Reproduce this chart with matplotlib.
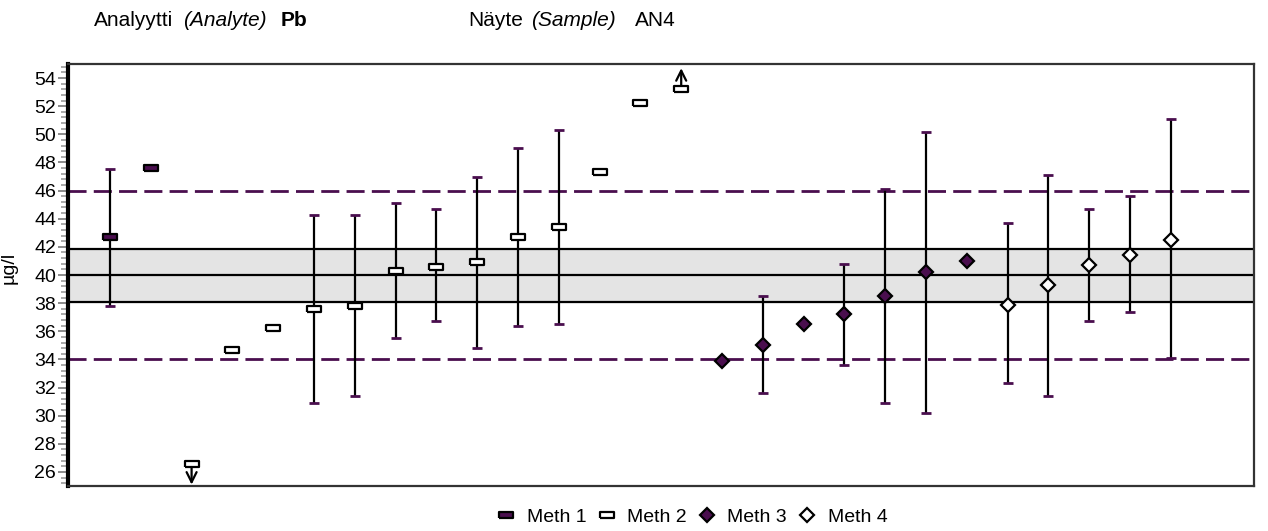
import matplotlib
matplotlib.use("Agg")
import matplotlib.pyplot as plt
from matplotlib.lines import Line2D
from matplotlib.ticker import MultipleLocator
import numpy as np

plt.rcParams["font.family"] = ["Liberation Sans", "DejaVu Sans"]

# results per laboratory, in plotting order
methods = [1, 1,
           2, 2, 2, 2, 2, 2, 2, 2, 2, 2, 2, 2, 2,
           3, 3, 3, 3, 3, 3, 3,
           4, 4, 4, 4, 4]
values = [42.7, 47.6,
          26.6, 34.7, 36.2, 37.6, 37.8, 40.3, 40.6, 40.9, 42.7, 43.4, 47.3, 52.2, 53.2,
          33.9, 35.0, 36.5, 37.2, 38.5, 40.2, 41.0,
          37.9, 39.3, 40.7, 41.4, 42.5]
lower = [37.8, np.nan,
         np.nan, np.nan, np.nan, 30.9, 31.4, 35.5, 36.7, 34.8, 36.4, 36.5, np.nan, np.nan, np.nan,
         np.nan, 31.6, np.nan, 33.6, 30.9, 30.2, np.nan,
         32.3, 31.4, 36.7, 37.4, 34.1]
upper = [47.5, np.nan,
         np.nan, np.nan, np.nan, 44.3, 44.3, 45.1, 44.7, 47.0, 49.0, 50.3, np.nan, np.nan, np.nan,
         np.nan, 38.5, np.nan, 40.8, 46.1, 50.2, np.nan,
         43.7, 47.1, 44.7, 45.6, 51.1]
# off-scale results: -1 below the axis, +1 above
offscale = [0, 0,
            -1, 0, 0, 0, 0, 0, 0, 0, 0, 0, 0, 0, 1,
            0, 0, 0, 0, 0, 0, 0,
            0, 0, 0, 0, 0]

assigned = 40.0
band = (38.05, 41.83)
limits = (34.0, 46.0)

purple = "#4a0e4e"
rect = [(-1, -0.38), (1, -0.38), (1, 0.38), (-1, 0.38), (-1, -0.38)]
styles = {
    1: dict(marker=rect, markersize=10, markerfacecolor=purple, label="Meth 1"),
    2: dict(marker=rect, markersize=10, markerfacecolor="white", label="Meth 2"),
    3: dict(marker="D", markersize=7.4, markerfacecolor=purple, label="Meth 3"),
    4: dict(marker="D", markersize=7.4, markerfacecolor="white", label="Meth 4"),
}

fig = plt.figure(figsize=(12.68, 5.31), dpi=100)
ax = fig.add_axes([0.0536, 0.0847, 0.9354, 0.7948])

x = np.arange(len(values))
vals = np.array(values)
lo = np.array(lower)
hi = np.array(upper)

ax.axhspan(band[0], band[1], color="#e4e4e4", zorder=0)
for yv in (band[0], assigned, band[1]):
    ax.axhline(yv, color="black", lw=1.6, zorder=1)
for yv in limits:
    ax.axhline(yv, color=purple, lw=2, dashes=(6.5, 2.6), zorder=1)

has_err = ~np.isnan(lo)
ax.vlines(x[has_err], lo[has_err], hi[has_err], color="black", lw=1.6, zorder=2)
ax.plot(x[has_err], lo[has_err], ls="none", marker="_", ms=7.5, mew=2, color=purple, zorder=2)
ax.plot(x[has_err], hi[has_err], ls="none", marker="_", ms=7.5, mew=2, color=purple, zorder=2)

for i, v in enumerate(vals):
    st = dict(styles[methods[i]])
    st.pop("label")
    ax.plot(x[i], v, ls="none", markeredgecolor="black", markeredgewidth=1.6, zorder=4, **st)
    if offscale[i]:
        d = offscale[i]
        ax.annotate("", xy=(x[i], v + d * 1.5), xytext=(x[i], v + d * 0.25),
                    arrowprops=dict(arrowstyle="->", color="black", lw=1.6,
                                    mutation_scale=18, shrinkA=0, shrinkB=0),
                    zorder=4)

ax.set_xlim(-1.03, 28.04)
ax.set_ylim(25, 55)
ax.set_xticks([])
ax.yaxis.set_minor_locator(MultipleLocator(0.4))
ax.set_yticks(np.arange(26, 55, 2))
ax.tick_params(axis="y", which="major", length=7, width=1.2, color="#777777",
               labelsize=14, pad=1.5)
ax.tick_params(axis="y", which="minor", length=5, width=1.2, color="#999999")
ax.set_ylabel("µg/l", fontsize=14)
ax.yaxis.set_label_coords(-0.0422, 0.517)

for side in ("top", "right", "bottom"):
    ax.spines[side].set_color("#333333")
    ax.spines[side].set_linewidth(1.6)
ax.spines["left"].set_linewidth(3)

# header
fs = 15
y_head = 1 - 26 / 531
fig.text(94 / 1268, y_head, "Analyytti", fontsize=fs, va="baseline")
fig.text(183 / 1268, y_head, "(Analyte)", fontsize=fs, style="italic", va="baseline")
fig.text(281 / 1268, y_head, "Pb", fontsize=fs, weight="bold", va="baseline")
fig.text(468 / 1268, y_head, "Näyte", fontsize=fs, va="baseline")
fig.text(531 / 1268, y_head, "(Sample)", fontsize=fs, style="italic", va="baseline")
fig.text(635 / 1268, y_head, "AN4", fontsize=fs, va="baseline")

handles = []
for m in (1, 2, 3, 4):
    st = dict(styles[m])
    handles.append(Line2D([], [], ls="none", markeredgecolor="black",
                          markeredgewidth=1.6, **st))
fig.legend(handles=handles, loc="center", bbox_to_anchor=(692 / 1268, 1 - 517 / 531),
           ncol=4, frameon=False, fontsize=14, handlelength=1.0, handletextpad=0.55,
           columnspacing=0.55, borderpad=0)

fig.savefig("out.png", dpi=100)
